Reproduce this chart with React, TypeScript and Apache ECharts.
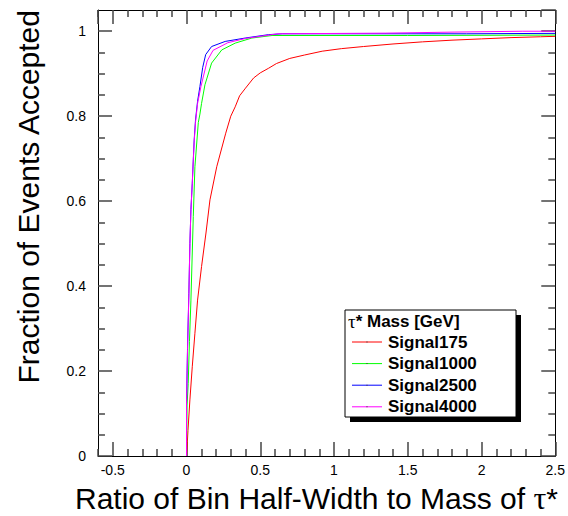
import React, { useEffect, useRef } from 'react';
import * as echarts from 'echarts';

const seriesNames = ['Signal175', 'Signal1000', 'Signal2500', 'Signal4000'];
const seriesColors = ['#ff0000', '#00ff00', '#0000ff', '#ff00ff'];

const sig175X = [0, 0.004, 0.01, 0.023, 0.039, 0.057, 0.075, 0.102, 0.132, 0.159, 0.205, 0.266, 0.3, 0.33, 0.36, 0.4, 0.455, 0.5, 0.557, 0.61, 0.7, 0.8, 0.92, 1.05, 1.2, 1.4, 1.6, 1.8, 2.0, 2.2, 2.4, 2.5];
const sig175Y = [0, 0.02, 0.06, 0.132, 0.21, 0.289, 0.367, 0.446, 0.525, 0.603, 0.681, 0.76, 0.8, 0.822, 0.848, 0.866, 0.89, 0.902, 0.913, 0.924, 0.936, 0.944, 0.953, 0.959, 0.964, 0.97, 0.975, 0.979, 0.982, 0.985, 0.987, 0.988];

const sig1000X = [0, 0.004, 0.0116, 0.02, 0.03, 0.046, 0.057, 0.08, 0.091, 0.102, 0.125, 0.17, 0.239, 0.33, 0.443, 0.58, 1.5, 2.5];
const sig1000Y = [0, 0.12, 0.171, 0.27, 0.367, 0.564, 0.681, 0.785, 0.805, 0.83, 0.874, 0.925, 0.956, 0.972, 0.984, 0.99, 0.99, 0.991];

const sig2500X = [0, 0, 0.007, 0.016, 0.023, 0.03, 0.039, 0.046, 0.052, 0.061, 0.075, 0.091, 0.11, 0.13, 0.17, 0.262, 0.398, 0.557, 0.65, 1.9, 2.5];
const sig2500Y = [0, 0.12, 0.257, 0.383, 0.5, 0.58, 0.642, 0.697, 0.744, 0.791, 0.835, 0.87, 0.915, 0.945, 0.964, 0.976, 0.984, 0.992, 0.994, 0.994, 0.995];

const sig4000X = [0, 0, 0.007, 0.016, 0.023, 0.03, 0.039, 0.046, 0.052, 0.061, 0.075, 0.098, 0.14, 0.18, 0.28, 0.4, 0.56, 0.62, 1.35, 1.82, 2.28, 2.5];
const sig4000Y = [0, 0.12, 0.25, 0.38, 0.5, 0.58, 0.64, 0.695, 0.74, 0.785, 0.83, 0.87, 0.93, 0.955, 0.973, 0.983, 0.991, 0.994, 0.9955, 0.998, 1.0, 1.0];

const seriesX = [sig175X, sig1000X, sig2500X, sig4000X];
const seriesY = [sig175Y, sig1000Y, sig2500Y, sig4000Y];

// minor tick positions (ROOT style, drawn inside the frame on all four sides)
const xMinorTicks = [-0.6, -0.4, -0.3, -0.2, -0.1, 0.1, 0.2, 0.3, 0.4, 0.6, 0.7, 0.8, 0.9, 1.1, 1.2, 1.3, 1.4, 1.6, 1.7, 1.8, 1.9, 2.1, 2.2, 2.3, 2.4];
const yMinorTicks = [0.05, 0.1, 0.15, 0.25, 0.3, 0.35, 0.45, 0.5, 0.55, 0.65, 0.7, 0.75, 0.85, 0.9, 0.95];

const xTitle = 'Ratio of Bin Half-Width to Mass of ';
const yTitle = 'Fraction of Events Accepted';
const legendTitle = ' Mass [GeV]';

const X_MIN = -0.6;
const X_MAX = 2.5;
const Y_MIN = 0;
const Y_MAX = 1.05;

const GRID = { left: 98, right: 10, top: 10, bottom: 60 };
const W = 568;
const H = 516;

const SANS = '"Liberation Sans", Arial, Helvetica, sans-serif';
const SERIF = '"Liberation Serif", "DejaVu Serif", serif';

const MAJOR_LEN = 14;
const MINOR_LEN = 7;
const TICK_COLOR = '#444';
const TICK_WIDTH = 1.5;

const pxX = (W - GRID.left - GRID.right) / (X_MAX - X_MIN);
const pxY = (H - GRID.top - GRID.bottom) / (Y_MAX - Y_MIN);

function minorTickLines() {
  const data: any[] = [];
  const dy = MINOR_LEN / pxY;
  const dx = MINOR_LEN / pxX;
  xMinorTicks.forEach((v) => {
    data.push({ coords: [[v, Y_MIN], [v, Y_MIN + dy]] });
    data.push({ coords: [[v, Y_MAX], [v, Y_MAX - dy]] });
  });
  yMinorTicks.forEach((v) => {
    data.push({ coords: [[X_MIN, v], [X_MIN + dx, v]] });
    data.push({ coords: [[X_MAX, v], [X_MAX - dx, v]] });
  });
  return {
    type: 'lines',
    coordinateSystem: 'cartesian2d',
    z: 5,
    lineStyle: { color: TICK_COLOR, width: TICK_WIDTH, opacity: 1 },
    data,
  };
}

export default function App() {
  const ref = useRef<HTMLDivElement>(null);
  useEffect(() => {
    if (!ref.current) return;
    const chart = echarts.init(ref.current, null, { renderer: 'svg' });

    const mkX = (pos: string, labels: boolean) => ({
      type: 'value',
      min: X_MIN,
      max: X_MAX,
      position: pos,
      axisLine: { show: true, onZero: false, lineStyle: { color: '#000', width: 1 } },
      axisTick: { show: true, inside: true, length: MAJOR_LEN, lineStyle: { color: TICK_COLOR, width: TICK_WIDTH } },
      splitLine: { show: false },
      axisLabel: labels
        ? {
            show: true,
            margin: 7,
            fontSize: 14,
            fontFamily: SANS,
            color: '#000',
            showMinLabel: false,
            formatter: (v: number) => (v < -0.55 ? '' : String(v)),
          }
        : { show: false },
    });
    const mkY = (pos: string, labels: boolean) => ({
      type: 'value',
      min: Y_MIN,
      max: Y_MAX,
      interval: 0.2,
      position: pos,
      axisLine: { show: true, onZero: false, lineStyle: { color: '#000', width: 1 } },
      axisTick: { show: true, inside: true, length: MAJOR_LEN, lineStyle: { color: TICK_COLOR, width: TICK_WIDTH } },
      splitLine: { show: false },
      axisLabel: labels
        ? {
            show: true,
            margin: 12,
            fontSize: 14,
            fontFamily: SANS,
            color: '#000',
            showMaxLabel: false,
            formatter: (v: number) => (v > 1.01 ? '' : String(v)),
          }
        : { show: false },
    });

    const LX = 345, LY = 310, LW = 171, LH = 107;
    const legendEls: any[] = [
      { type: 'rect', shape: { x: LX + 5, y: LY + 5, width: LW, height: LH }, style: { fill: '#000' }, z: 10 },
      { type: 'rect', shape: { x: LX, y: LY, width: LW, height: LH }, style: { fill: '#fff', stroke: '#000', lineWidth: 1 }, z: 11 },
      {
        type: 'text',
        x: LX + 3,
        y: LY + 11,
        z: 12,
        style: {
          text: '{t|τ}{b|*' + legendTitle + '}',
          verticalAlign: 'middle',
          rich: {
            t: { fontFamily: SERIF, fontSize: 19, fill: '#000' },
            b: { fontFamily: SANS, fontSize: 17, fontWeight: 'bold', fill: '#000' },
          },
        },
      },
    ];
    seriesNames.forEach((name, i) => {
      const y = LY + 32 + i * 21.6;
      legendEls.push({ type: 'line', z: 12, shape: { x1: LX + 7, y1: y, x2: LX + 37, y2: y }, style: { stroke: seriesColors[i], lineWidth: 1 } });
      legendEls.push({ type: 'rect', z: 13, shape: { x: LX + 21.5, y: y - 0.5, width: 1, height: 1 }, style: { fill: '#333' } });
      legendEls.push({
        type: 'text',
        z: 12,
        x: LX + 43,
        y,
        style: { text: name, fontFamily: SANS, fontSize: 17, fontWeight: 'bold', fill: '#000', verticalAlign: 'middle' },
      });
    });

    chart.setOption({
      animation: false,
      backgroundColor: '#fff',
      grid: { ...GRID },
      xAxis: [mkX('bottom', true), mkX('top', false)],
      yAxis: [mkY('left', true), mkY('right', false)],
      series: [
        minorTickLines(),
        ...seriesNames.map((name, i) => ({
          name,
          type: 'line',
          xAxisIndex: 0,
          yAxisIndex: 0,
          showSymbol: false,
          symbol: 'none',
          z: 3,
          lineStyle: { color: seriesColors[i], width: 1 },
          itemStyle: { color: seriesColors[i] },
          data: seriesX[i].map((x, j) => [x, seriesY[i][j]]),
        })),
      ],
      graphic: [
        {
          type: 'text',
          x: 558,
          y: 498,
          style: {
            text: '{a|' + xTitle + '}{t|τ}{a|*}',
            align: 'right',
            verticalAlign: 'middle',
            rich: {
              a: { fontFamily: SANS, fontSize: 30, fill: '#000' },
              t: { fontFamily: SERIF, fontSize: 32, fill: '#000' },
            },
          },
        },
        {
          type: 'text',
          x: 28,
          y: 10,
          rotation: Math.PI / 2,
          style: { text: yTitle, fontFamily: SANS, fontSize: 30, fill: '#000', align: 'right', verticalAlign: 'middle' },
        },
        ...legendEls,
      ],
    });
    return () => chart.dispose();
  }, []);
  return <div ref={ref} style={{ position: 'fixed', left: 0, top: 0, width: 568, height: 516 }} />;
}
